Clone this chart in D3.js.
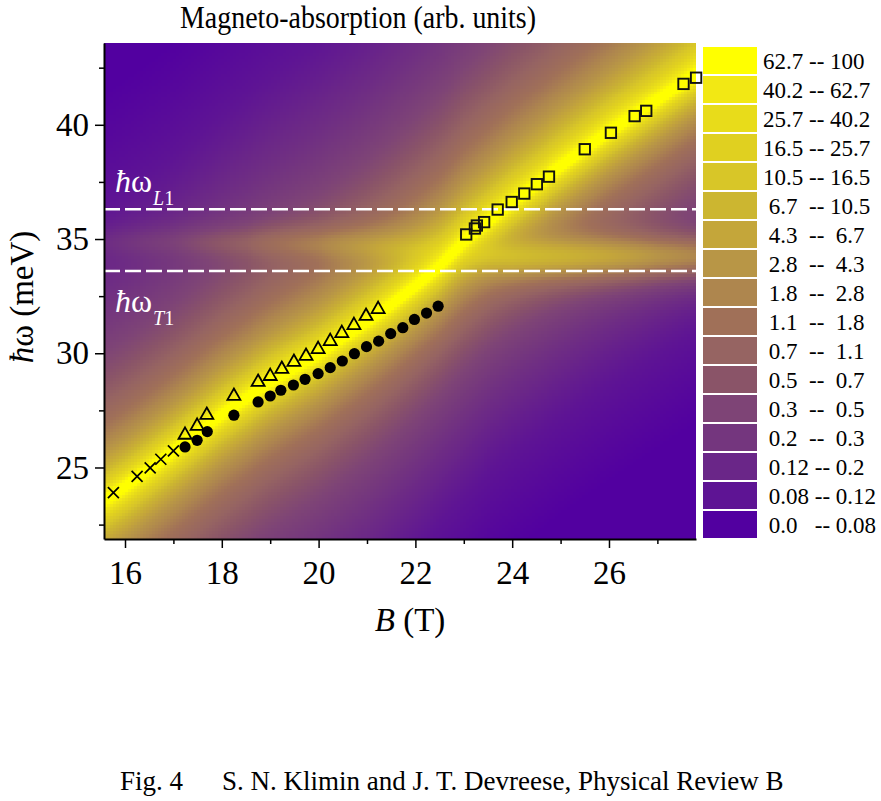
<!DOCTYPE html>
<html><head><meta charset="utf-8">
<script src="https://cdn.jsdelivr.net/npm/d3@7"></script>
<style>
body{margin:0;background:#fff;}
</style></head><body>
<svg id="chart" width="881" height="801" style="font-family:'Liberation Serif','Times New Roman',serif"></svg>
<script>
const SERIF = "'Liberation Serif','Times New Roman',serif";
// ---- measured data points ----
const crossB = [15.76,16.25,16.52,16.74,17.0];
const crossW = [23.90,24.61,24.98,25.36,25.73];
const triB = [17.24,17.49,17.69,18.25,18.75,19.0,19.24,19.49,19.74,19.99,20.24,20.48,20.73,20.98,21.23];
const triW = [26.46,26.85,27.33,28.16,28.77,29.03,29.34,29.65,29.91,30.21,30.56,30.91,31.26,31.66,31.96];
const dotB = [17.24,17.49,17.70,18.25,18.75,19.0,19.22,19.48,19.72,19.99,20.24,20.49,20.74,20.99,21.24,21.49,21.74,21.98,22.23,22.47];
const dotW = [25.90,26.19,26.57,27.29,27.87,28.13,28.38,28.61,28.86,29.11,29.37,29.66,29.98,30.29,30.53,30.86,31.12,31.48,31.76,32.06];
const sqB = [23.05,23.23,23.27,23.42,23.70,23.99,24.25,24.51,24.76,25.50,26.04,26.53,26.77,27.54,27.80];
const sqW = [35.20,35.46,35.59,35.74,36.29,36.62,36.99,37.40,37.73,38.93,39.65,40.38,40.61,41.79,42.06];

// phonon energies (dashed lines)
const phononNames = ["L1","T1"];
const phononW = [36.3, 33.6];

// ---- absorption map: ridge lines ----
const ridgeB = [15.5,16,17,18,19,20,21,21.5,22,22.5,23,23.5,24,25,26,27,27.9];
const ridgeW = [23.5,24.2,25.75,27.35,28.75,29.95,31.4,32.15,32.95,33.8,34.9,35.75,36.6,38.15,39.65,41.05,42.35];
const ridgeGup = [0.40,0.40,0.40,0.41,0.42,0.43,0.44,0.45,0.46,0.47,0.48,0.49,0.50,0.51,0.52,0.54,0.55];
const ridgeGdown = [0.43,0.43,0.42,0.41,0.40,0.39,0.38,0.37,0.36,0.35,0.35,0.34,0.34,0.34,0.34,0.34,0.34];
const ridgeA = [100,100,100,100,100,100,100,100,100,100,100,100,100,100,100,100,100];
const bandB = [15.5,17,18.5,20,21,21.6,22.3,23,24,25,26,27,27.9];
const bandW = [34.9,34.9,34.85,34.8,34.7,34.6,34.5,34.4,34.3,34.3,34.3,34.3,34.3];
const bandA = [0.05,0.15,0.45,1.3,2.7,4.2,6,8,8.5,7,5,3,2];
const bandG = [0.8,0.8,0.8,0.8,0.8,0.8,0.8,0.8,0.8,0.8,0.8,0.8,0.8];

// ---- legend ----
const levels = [0,0.08,0.12,0.2,0.3,0.5,0.7,1.1,1.8,2.8,4.3,6.7,10.5,16.5,25.7,40.2,62.7,100];
const levelColors = ["#5200a0","#5e1494","#6a2688","#74367e","#7e4476","#8a5468","#966462","#a07058",
  "#ae864e","#b89646","#c4a63a","#ccb630","#d8c628","#e0d020","#e8dc1a","#f2e814","#ffff00"];
const legendLabels = ["62.7 -- 100","40.2 -- 62.7","25.7 -- 40.2","16.5 -- 25.7","10.5 -- 16.5",
  " 6.7  -- 10.5"," 4.3  --  6.7"," 2.8  --  4.3"," 1.8  --  2.8"," 1.1  --  1.8"," 0.7  --  1.1",
  " 0.5  --  0.7"," 0.3  --  0.5"," 0.2  --  0.3"," 0.12 -- 0.2"," 0.08 -- 0.12"," 0.0   -- 0.08"];

const xTicks = [16,18,20,22,24,26];
const xMinor = [17,19,21,23,25,27];
const yTicks = [25,30,35,40];
const yMinor = [22.5,27.5,32.5,37.5,42.5];

// ---- scales ----
const svg = d3.select("#chart");
const x = d3.scaleLinear().domain([15.566, 27.798]).range([104, 696]);
const y = d3.scaleLinear().domain([21.87, 43.58]).range([539, 43]);

const rC = d3.scaleLinear().domain(ridgeB).range(ridgeW);
const rGu = d3.scaleLinear().domain(ridgeB).range(ridgeGup);
const rGd = d3.scaleLinear().domain(ridgeB).range(ridgeGdown);
const rA = d3.scaleLinear().domain(ridgeB).range(ridgeA);
const bC = d3.scaleLinear().domain(bandB).range(bandW);
const bA = d3.scaleLinear().domain(bandB).range(bandA);
const bG = d3.scaleLinear().domain(bandB).range(bandG);

const mids = levels.slice(0,-1).map((lo,i)=> i===0 ? 0.05 : Math.sqrt(lo*levels[i+1]));
const color = d3.scaleLinear().domain(mids.map(Math.log10)).range(levelColors)
  .interpolate(d3.interpolateRgb).clamp(true);

function intensity(B, w){
  const c = rC(B);
  const d1 = (w - c)/(w > c ? rGu(B) : rGd(B));
  const d2 = (w - bC(B))/bG(B);
  const l2 = 1/(1+d2*d2);
  return rA(B)/(1+d1*d1) + bA(B)*l2*l2;
}

svg.append("defs").append("clipPath").attr("id","plotclip")
  .append("rect").attr("x",104).attr("y",43).attr("width",592).attr("height",496);

const nB = 198, nW = 166;
const [b0,b1] = x.domain(), [w0,w1] = y.domain();
const db = (b1-b0)/nB, dw = (w1-w0)/nW;
const cells = [];
for (let i=0;i<nB;i++) for (let j=0;j<nW;j++){
  const B = b0+(i+0.5)*db, w = w0+(j+0.5)*dw;
  cells.push({i, j, v: intensity(B,w)});
}
svg.append("g").attr("clip-path","url(#plotclip)").attr("shape-rendering","crispEdges")
  .selectAll("rect").data(cells).join("rect")
  .attr("x", d=>x(b0+d.i*db))
  .attr("y", d=>y(w0+(d.j+1)*dw))
  .attr("width", d=>x(b0+(d.i+1)*db)-x(b0+d.i*db)+0.7)
  .attr("height", d=>y(w0+d.j*dw)-y(w0+(d.j+1)*dw)+0.7)
  .attr("fill", d=>color(Math.log10(Math.max(d.v,1e-4))));

// dashed phonon lines
svg.append("g").selectAll("line").data(phononW).join("line")
  .attr("x1",x(b0)).attr("x2",x(b1)).attr("y1",d=>y(d)).attr("y2",d=>y(d))
  .attr("stroke","#fff").attr("stroke-width",2.5).attr("stroke-dasharray","16,5");

// phonon labels
const labelBase = [[192,205],[312,325]];
phononNames.forEach((n,k)=>{
  const t = svg.append("text").attr("x",115).attr("y",labelBase[k][0])
    .attr("fill","#fff").attr("font-size",32).style("font-family",SERIF);
  t.append("tspan").attr("font-style","italic").text("\u0127");
  t.append("tspan").text("\u03c9");
  const s = svg.append("text").attr("x",153).attr("y",labelBase[k][1])
    .attr("fill","#fff").attr("font-size",20).style("font-family",SERIF);
  s.append("tspan").attr("font-style","italic").text(n[0]);
  s.append("tspan").text(n.slice(1));
});

// markers
const mk = svg.append("g");
mk.selectAll("path.cross").data(crossB.map((b,i)=>[b,crossW[i]])).join("path")
  .attr("class","cross")
  .attr("transform",d=>`translate(${x(d[0])},${y(d[1])})`)
  .attr("d","M-5.5,-5.5L5.5,5.5M-5.5,5.5L5.5,-5.5")
  .attr("stroke","#000").attr("stroke-width",1.7).attr("fill","none");
mk.selectAll("path.tri").data(triB.map((b,i)=>[b,triW[i]])).join("path")
  .attr("class","tri")
  .attr("transform",d=>`translate(${x(d[0])},${y(d[1])})`)
  .attr("d","M0,-6.8L6.5,4.6L-6.5,4.6Z")
  .attr("stroke","#000").attr("stroke-width",1.8).attr("fill","none");
mk.selectAll("circle").data(dotB.map((b,i)=>[b,dotW[i]])).join("circle")
  .attr("cx",d=>x(d[0])).attr("cy",d=>y(d[1])).attr("r",5.6).attr("fill","#000");
mk.selectAll("rect").data(sqB.map((b,i)=>[b,sqW[i]])).join("rect")
  .attr("x",d=>x(d[0])-5.2).attr("y",d=>y(d[1])-5.2).attr("width",10.4).attr("height",10.4)
  .attr("stroke","#111").attr("stroke-width",1.9).attr("fill","none");

// axes
function styleAxis(g, fs){
  g.attr("font-family",SERIF).attr("font-size",fs);
  g.selectAll("text").attr("fill","#000").style("font-family",SERIF).style("font-size",fs+"px");
  g.selectAll("line").attr("stroke","#000").attr("stroke-width",1.5);
  g.select(".domain").attr("stroke","#000").attr("stroke-width",2);
}
const gyMinor = svg.append("g").attr("transform","translate(104,0)")
  .call(d3.axisLeft(y).tickValues(yMinor).tickSize(5).tickFormat("").tickSizeOuter(0));
gyMinor.select(".domain").remove();
gyMinor.selectAll("line").attr("stroke","#000").attr("stroke-width",1.5);
const gy = svg.append("g").attr("transform","translate(104,0)")
  .call(d3.axisLeft(y).tickValues(yTicks).tickSize(9).tickPadding(6).tickSizeOuter(0));
styleAxis(gy, 33);

const gxMinor = svg.append("g").attr("transform","translate(0,539)")
  .call(d3.axisBottom(x).tickValues(xMinor).tickSize(5).tickFormat("").tickSizeOuter(0));
gxMinor.select(".domain").remove();
gxMinor.selectAll("line").attr("stroke","#000").attr("stroke-width",1.5);
const gx = svg.append("g").attr("transform","translate(0,539)")
  .call(d3.axisBottom(x).tickValues(xTicks).tickSize(9).tickPadding(13).tickSizeOuter(0));
styleAxis(gx, 33);

// axis labels
const xl = svg.append("text").attr("x",410).attr("y",631).attr("text-anchor","middle")
  .attr("font-size",33).style("font-family",SERIF);
xl.append("tspan").attr("font-style","italic").text("B");
xl.append("tspan").text(" (T)");
const yl = svg.append("text").attr("transform","translate(33,297) rotate(-90)")
  .attr("text-anchor","middle").attr("font-size",33).style("font-family",SERIF);
yl.append("tspan").attr("font-style","italic").text("\u0127");
yl.append("tspan").text("\u03c9 (meV)");

// title
svg.append("text").attr("x",180).attr("y",28).attr("font-size",31).style("font-family",SERIF)
  .attr("textLength",356).attr("lengthAdjust","spacingAndGlyphs")
  .text("Magneto-absorption (arb. units)");

// legend
const lg = svg.append("g");
const rowH = 29;
lg.selectAll("rect").data(legendLabels).join("rect")
  .attr("x",703).attr("y",(d,i)=>47+i*rowH).attr("width",54).attr("height",rowH-2)
  .attr("fill",(d,i)=>levelColors[levelColors.length-1-i]);
lg.selectAll("text").data(legendLabels).join("text")
  .attr("x",763).attr("y",(d,i)=>47+i*rowH+rowH/2+7)
  .attr("font-size",23).style("font-family",SERIF).style("white-space","pre").text(d=>d);

// caption
svg.append("text").attr("x",120).attr("y",790).attr("font-size",27).style("font-family",SERIF).text("Fig. 4");
svg.append("text").attr("x",222).attr("y",790).attr("font-size",27).style("font-family",SERIF)
  .text("S. N. Klimin and J. T. Devreese, Physical Review B");
</script>
</body></html>
